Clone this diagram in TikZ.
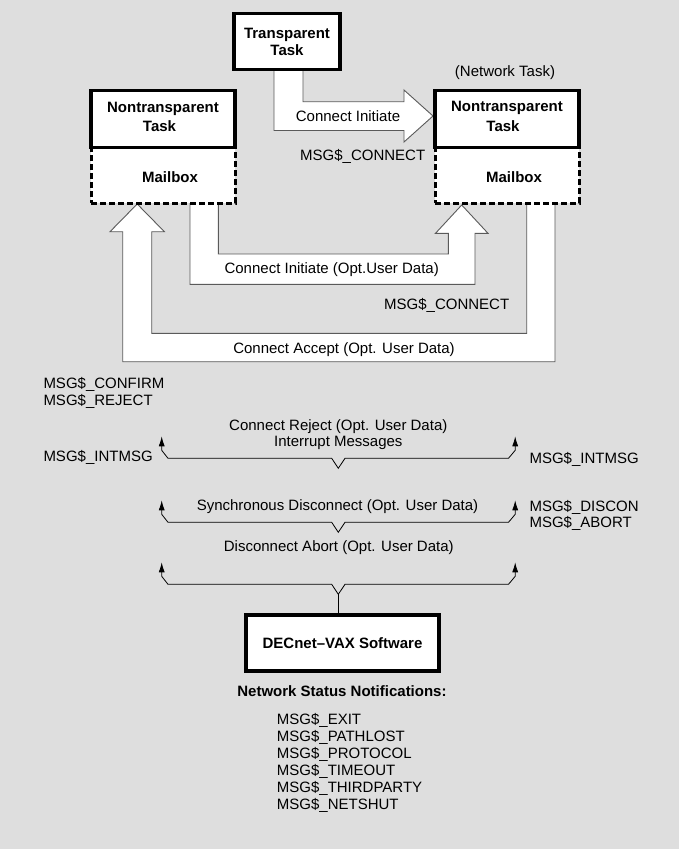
\documentclass[tikz,border=0pt]{standalone}
\usepackage{fontspec}
\setmainfont{Liberation Sans}
\usetikzlibrary{arrows.meta}
\definecolor{bgc}{RGB}{222,222,222}
\definecolor{edgec}{RGB}{90,90,90}
\begin{document}
\begin{tikzpicture}[x=1pt,y=-1pt,
  font=\fontsize{15}{17}\selectfont,
  tbox/.style={draw, line width=3.5pt, fill=white, inner sep=0pt},
  mbox/.style={draw, line width=3pt, dash pattern=on 6pt off 3pt, fill=white, inner sep=0pt},
  fat/.style={fill=white, draw=edgec, line width=0.9pt, line join=miter},
  brline/.style={line width=0.8pt, {Latex[length=10pt,width=6pt]}-{Latex[length=10pt,width=6pt]}},
  lbl/.style={anchor=base, inner sep=0pt},
  lblw/.style={anchor=base west, inner sep=0pt},
  bld/.style={font=\fontsize{15}{17}\selectfont\bfseries}]
\fill[bgc] (0,0) rectangle (679,849);
\useasboundingbox (0,0) rectangle (679,849);

% fat arrows
\draw[fat] (274,70) -- (274,130.5) -- (404,130.5) -- (404,142) -- (433,116) -- (404,90) -- (404,101.7) -- (303,101.7) -- (303,70) -- cycle;
\draw[fat] (190,200) -- (190,284.3) -- (475,284.3) -- (475,233.3) -- (488,233.3) -- (461.7,205) -- (435.5,233.3) -- (448.3,233.3) -- (448.3,254) -- (218.3,254) -- (218.3,200) -- cycle;
\draw[fat] (555,200) -- (555,361.7) -- (122.7,361.7) -- (122.7,231.7) -- (110,231.7) -- (137.2,204) -- (164.4,231.7) -- (151.7,231.7) -- (151.7,333.3) -- (526.7,333.3) -- (526.7,200) -- cycle;

% boxes
\node[tbox, bld, align=center, minimum width=106pt, minimum height=56pt] (tt) at (287,41.7) {Transparent\\Task};
\node[mbox, minimum width=144pt, minimum height=55.5pt] (lmb) at (163,175.25) {};
\node[tbox, minimum width=144pt, minimum height=57pt] (lnt) at (163,119) {};
\node[mbox, minimum width=144pt, minimum height=55.5pt] (rmb) at (507,175.25) {};
\node[tbox, minimum width=144pt, minimum height=57pt] (rnt) at (507,119) {};
\node[tbox, bld, minimum width=193pt, minimum height=56pt] (dn) at (342.5,643) {DECnet--VAX Software};

% box labels
\node[lbl,bld] (lnt1) at (163,112.3) {Nontransparent};
\node[lbl,bld] (lnt2) at (159.5,131.7) {Task};
\node[lbl,bld] (lmbt) at (170,182.3) {Mailbox};
\node[lbl,bld] (rnt1) at (507,111.7) {Nontransparent};
\node[lbl,bld] (rnt2) at (503,131.7) {Task};
\node[lbl,bld] (rmbt) at (514,182.3) {Mailbox};

% arrow labels
\node[lbl] (nettask) at (505,76) {(Network Task)};
\node[lbl] (ci1) at (348,121.5) {Connect Initiate};
\node[lblw] (mc1) at (300,160) {MSG\$\_CONNECT};
\node[lbl] (ci2) at (331.7,273) {Connect Initiate (Opt.User Data)};
\node[lblw] (mc2) at (384,309) {MSG\$\_CONNECT};
\node[lbl] (ca) at (344,353.5) {Connect Accept (Opt. User Data)};
\node[lblw] (mcf) at (43.3,388.3) {MSG\$\_CONFIRM};
\node[lblw] (mrj) at (43.3,405.7) {MSG\$\_REJECT};

% braces
\foreach \Y/\n in {458.3/1,522.3/2,584.3/3}{
  \coordinate (apex\n) at (338.3,\Y+10);
  \draw[brline] (161.7,\Y-22) -- (161.7,\Y-8) -- (168,\Y) -- (331.7,\Y) -- (apex\n) -- (345,\Y) -- (508.5,\Y) -- (515.2,\Y-8) -- (515.2,\Y-22);
}
\draw[line width=0.8pt] (apex3) -- (apex3 |- dn.north);

\node[lbl] (cr1) at (338.3,430) {Connect Reject (Opt. User Data)};
\node[lbl] (cr2) at (338.3,446.7) {Interrupt Messages};
\node[lblw] (im1) at (43.3,461.7) {MSG\$\_INTMSG};
\node[lblw] (im2) at (529.3,463.3) {MSG\$\_INTMSG};
\node[lbl] (sd) at (337.5,510) {Synchronous Disconnect (Opt. User Data)};
\node[lblw] (dc) at (529.3,511) {MSG\$\_DISCON};
\node[lblw] (ab) at (529.3,527.7) {MSG\$\_ABORT};
\node[lbl] (da) at (338.8,551.7) {Disconnect Abort (Opt. User Data)};

% notifications
\node[lbl,bld] (nsn) at (342,696) {Network Status Notifications:};
\foreach \t [count=\i from 0] in {EXIT,PATHLOST,PROTOCOL,TIMEOUT,THIRDPARTY,NETSHUT}
  \node[lblw] (ns\i) at (276.7,{724.3+17.1*\i}) {MSG\$\_\t};
\end{tikzpicture}
\end{document}
